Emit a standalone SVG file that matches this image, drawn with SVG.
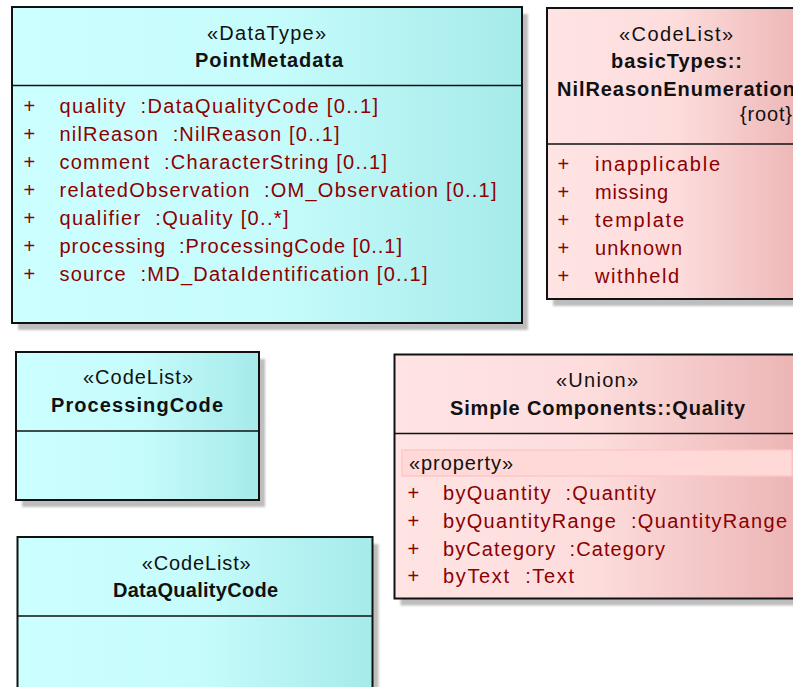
<svg xmlns="http://www.w3.org/2000/svg" width="793" height="687" viewBox="0 0 793 687">
<defs>
<linearGradient id="cyan" x1="0" y1="0" x2="1" y2="0">
<stop offset="0" stop-color="#CCFFFF"/>
<stop offset="0.5" stop-color="#C7FCFC"/>
<stop offset="1" stop-color="#A6EAEA"/>
</linearGradient>
<linearGradient id="pink" x1="0" y1="0" x2="1" y2="0">
<stop offset="0" stop-color="#FFE4E4"/>
<stop offset="0.5" stop-color="#FDDCDC"/>
<stop offset="1" stop-color="#ECB4B4"/>
</linearGradient>
<filter id="blur" x="-5%" y="-5%" width="110%" height="110%"><feGaussianBlur stdDeviation="1"/></filter>
<style>
.shadow{fill:#bdbdbd;filter:url(#blur)}
.box{stroke:#111;stroke-width:2}
.c{fill:url(#cyan)}
.p{fill:url(#pink)}
.div{stroke:#111;stroke-width:1.6}
text{font-family:"Liberation Sans",Arial,sans-serif;font-size:20px;white-space:pre}
.st{fill:#111}
.nm{fill:#111;font-weight:bold}
.at{fill:#8b0000}
</style>
</defs>
<g id="connectors"/>
<g id="PointMetadata">
<rect class="shadow" x="18" y="14" width="510" height="316"/>
<rect class="box c" x="12" y="7" width="510" height="316"/>
<line class="div" x1="12" y1="85.5" x2="522" y2="85.5"/>
<text class="st" x="207" y="40" textLength="119" lengthAdjust="spacing">«DataType»</text>
<text class="nm" x="195" y="66.5" textLength="148" lengthAdjust="spacing">PointMetadata</text>
<text class="at" x="23.5" y="113">+</text>
<text class="at" x="59.5" y="113" textLength="318.5" lengthAdjust="spacing">quality  :DataQualityCode [0..1]</text>
<text class="at" x="23.5" y="141">+</text>
<text class="at" x="59.5" y="141" textLength="280" lengthAdjust="spacing">nilReason  :NilReason [0..1]</text>
<text class="at" x="23.5" y="169">+</text>
<text class="at" x="59.5" y="169" textLength="327.5" lengthAdjust="spacing">comment  :CharacterString [0..1]</text>
<text class="at" x="23.5" y="197">+</text>
<text class="at" x="59.5" y="197" textLength="437" lengthAdjust="spacing">relatedObservation  :OM_Observation [0..1]</text>
<text class="at" x="23.5" y="225">+</text>
<text class="at" x="59.5" y="225" textLength="229" lengthAdjust="spacing">qualifier  :Quality [0..*]</text>
<text class="at" x="23.5" y="253">+</text>
<text class="at" x="59.5" y="253" textLength="342.5" lengthAdjust="spacing">processing  :ProcessingCode [0..1]</text>
<text class="at" x="23.5" y="281">+</text>
<text class="at" x="59.5" y="281" textLength="368" lengthAdjust="spacing">source  :MD_DataIdentification [0..1]</text>
</g>
<g id="NilReasonEnumeration">
<rect class="shadow" x="553" y="15" width="260" height="291"/>
<rect class="box p" x="547" y="8" width="260" height="291"/>
<line class="div" x1="547" y1="144" x2="807" y2="144"/>
<text class="st" x="619" y="40.5" textLength="114" lengthAdjust="spacing">«CodeList»</text>
<text class="nm" x="611" y="68" textLength="131" lengthAdjust="spacing">basicTypes::</text>
<text class="nm" x="557" y="96" textLength="238" lengthAdjust="spacing">NilReasonEnumeration</text>
<text class="st" x="740" y="121" textLength="52" lengthAdjust="spacing">{root}</text>
<text class="at" x="557.5" y="171">+</text>
<text class="at" x="595" y="171" textLength="125" lengthAdjust="spacing">inapplicable</text>
<text class="at" x="557.5" y="199">+</text>
<text class="at" x="595" y="199" textLength="73" lengthAdjust="spacing">missing</text>
<text class="at" x="557.5" y="227">+</text>
<text class="at" x="595" y="227" textLength="89" lengthAdjust="spacing">template</text>
<text class="at" x="557.5" y="255">+</text>
<text class="at" x="595" y="255" textLength="87" lengthAdjust="spacing">unknown</text>
<text class="at" x="557.5" y="283">+</text>
<text class="at" x="595" y="283" textLength="84" lengthAdjust="spacing">withheld</text>
</g>
<g id="ProcessingCode">
<rect class="shadow" x="22" y="359" width="243" height="148"/>
<rect class="box c" x="16" y="352" width="243" height="148"/>
<line class="div" x1="16" y1="431" x2="259" y2="431"/>
<text class="st" x="83" y="384" textLength="110" lengthAdjust="spacing">«CodeList»</text>
<text class="nm" x="51" y="411.5" textLength="172" lengthAdjust="spacing">ProcessingCode</text>
</g>
<g id="DataQualityCode">
<rect class="shadow" x="23.5" y="544" width="355" height="160"/>
<rect class="box c" x="17.5" y="537" width="355" height="160"/>
<line class="div" x1="17.5" y1="616" x2="372.5" y2="616"/>
<text class="st" x="141.7" y="570" textLength="109" lengthAdjust="spacing">«CodeList»</text>
<text class="nm" x="113" y="597" textLength="165" lengthAdjust="spacing">DataQualityCode</text>
</g>
<g id="Quality">
<rect class="shadow" x="400.5" y="361.5" width="406" height="244"/>
<rect class="box p" x="394.5" y="354.5" width="406" height="244"/>
<line class="div" x1="394.5" y1="433.5" x2="800.5" y2="433.5"/>
<text class="st" x="556" y="386.5" textLength="82" lengthAdjust="spacing">«Union»</text>
<text class="nm" x="450" y="415" textLength="295" lengthAdjust="spacing">Simple Components::Quality</text>
<rect x="402" y="450" width="390" height="26" fill="#FFD8D8" stroke="#FFC6C6" stroke-width="1.5"/>
<text class="st" x="409" y="470" textLength="104" lengthAdjust="spacing">«property»</text>
<text class="at" x="407.5" y="500">+</text>
<text class="at" x="443" y="500" textLength="213" lengthAdjust="spacing">byQuantity  :Quantity</text>
<text class="at" x="407.5" y="528">+</text>
<text class="at" x="443" y="528" textLength="344" lengthAdjust="spacing">byQuantityRange  :QuantityRange</text>
<text class="at" x="407.5" y="555.5">+</text>
<text class="at" x="443" y="555.5" textLength="222" lengthAdjust="spacing">byCategory  :Category</text>
<text class="at" x="407.5" y="583">+</text>
<text class="at" x="443" y="583" textLength="131" lengthAdjust="spacing">byText  :Text</text>
</g>
</svg>
